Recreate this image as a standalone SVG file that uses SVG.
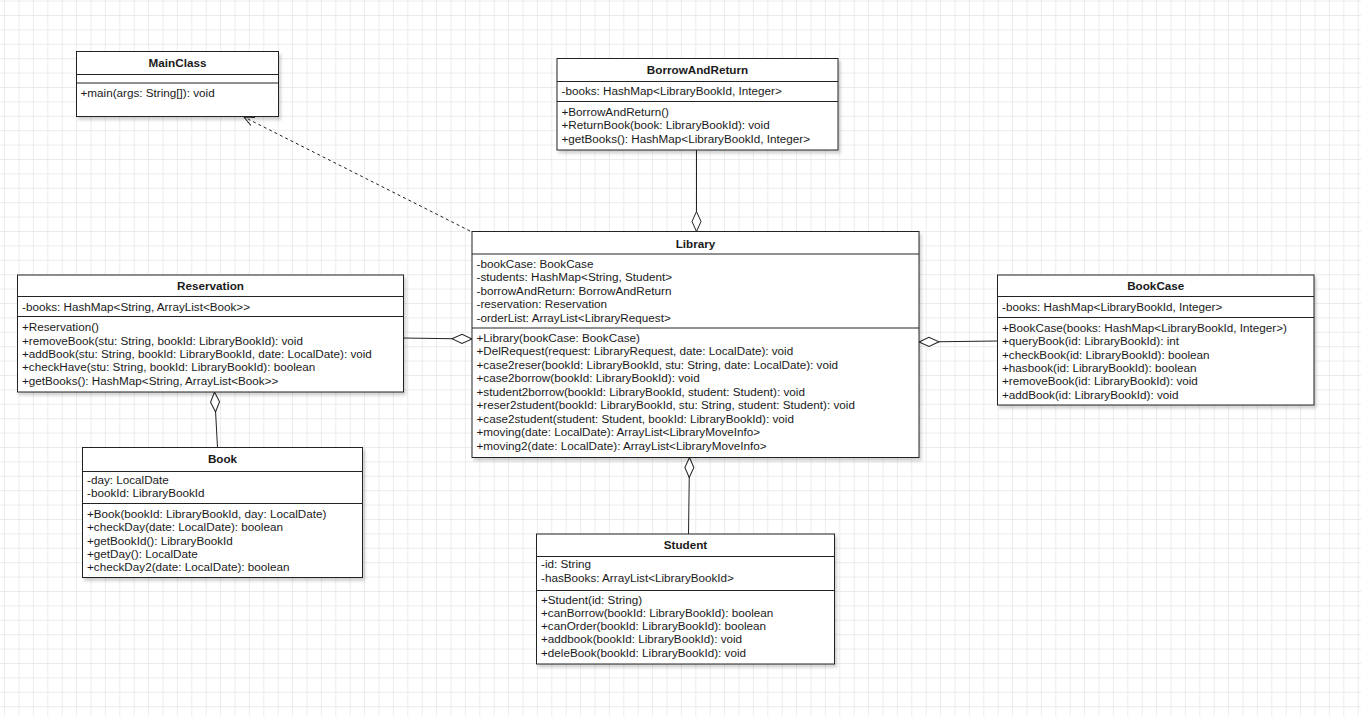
<svg xmlns="http://www.w3.org/2000/svg" width="1361" height="716" viewBox="0 0 1361 716">
<defs>
<style>
.box{fill:#fff;stroke:#222;stroke-width:1;filter:url(#sh)}
.ln{stroke:#222;stroke-width:1;fill:none}
.con{stroke:#222;stroke-width:1;fill:none}
text{font-family:"Liberation Sans",Arial,Helvetica,sans-serif;font-size:11.7px;fill:#1a1a1a}
.t{font-weight:bold;text-anchor:middle}
</style>
<pattern id="grid" x="4.1" y="0.6" width="14.4" height="14.4" patternUnits="userSpaceOnUse">
<path d="M0.5 0V14.4M0 0.5H14.4" stroke="#ebebeb" stroke-width="1" fill="none"/>
</pattern>
<filter id="sh" x="-5%" y="-5%" width="115%" height="120%">
<feDropShadow dx="2" dy="3" stdDeviation="1.5" flood-color="#000" flood-opacity="0.18"/>
</filter>
<marker id="dia" markerUnits="userSpaceOnUse" markerWidth="24" markerHeight="14" refX="21" refY="6" orient="auto">
<path d="M1 6L11 1.5L21 6L11 10.5Z" fill="#fff" stroke="#222" stroke-width="1"/>
</marker>
<marker id="open" markerUnits="userSpaceOnUse" markerWidth="14" markerHeight="14" refX="11" refY="6" orient="auto">
<path d="M1 1.5L11 6L1 10.5" fill="none" stroke="#222" stroke-width="1"/>
</marker>
</defs>
<rect width="1361" height="716" fill="#fff"/>
<rect width="1361" height="716" fill="url(#grid)"/>

<g id="connectors">
<path class="con" d="M470 231L244 117" stroke-dasharray="3 3" marker-end="url(#open)"/>
<path class="con" d="M696.5 150L696.5 231.5" marker-end="url(#dia)"/>
<path class="con" d="M403.5 338L472 339" marker-end="url(#dia)"/>
<path class="con" d="M997.5 341L919 342" marker-end="url(#dia)"/>
<path class="con" d="M217.5 447.5L214.5 392" marker-end="url(#dia)"/>
<path class="con" d="M688.5 534L689.5 457.5" marker-end="url(#dia)"/>
</g>

<g id="MainClass">
<rect class="box" x="76.5" y="51.5" width="202" height="65"/>
<path class="ln" d="M76.5 74.5H278.5M76.5 83H278.5"/>
<text class="t" x="177.5" y="67">MainClass</text>
<text x="80.5" y="97">+main(args: String[]): void</text>
</g>

<g id="BorrowAndReturn">
<rect class="box" x="557" y="58.5" width="281" height="91.5"/>
<path class="ln" d="M557 81.5H838M557 101.5H838"/>
<text class="t" x="697.5" y="74">BorrowAndReturn</text>
<text x="561.5" y="95">-books: HashMap&lt;LibraryBookId, Integer&gt;</text>
<text x="561.5" y="116">+BorrowAndReturn()</text>
<text x="561.5" y="129.3">+ReturnBook(book: LibraryBookId): void</text>
<text x="561.5" y="142.6">+getBooks(): HashMap&lt;LibraryBookId, Integer&gt;</text>
</g>

<g id="Library">
<rect class="box" x="472" y="231.5" width="447" height="226"/>
<path class="ln" d="M472 254H919M472 328H919"/>
<text class="t" x="695.5" y="247.5">Library</text>
<text x="476.5" y="268">-bookCase: BookCase</text>
<text x="476.5" y="281.4">-students: HashMap&lt;String, Student&gt;</text>
<text x="476.5" y="294.8">-borrowAndReturn: BorrowAndReturn</text>
<text x="476.5" y="308.2">-reservation: Reservation</text>
<text x="476.5" y="321.6">-orderList: ArrayList&lt;LibraryRequest&gt;</text>
<text x="476.5" y="342">+Library(bookCase: BookCase)</text>
<text x="476.5" y="355.45">+DelRequest(request: LibraryRequest, date: LocalDate): void</text>
<text x="476.5" y="368.9">+case2reser(bookId: LibraryBookId, stu: String, date: LocalDate): void</text>
<text x="476.5" y="382.35">+case2borrow(bookId: LibraryBookId): void</text>
<text x="476.5" y="395.8">+student2borrow(bookId: LibraryBookId, student: Student): void</text>
<text x="476.5" y="409.25">+reser2student(bookId: LibraryBookId, stu: String, student: Student): void</text>
<text x="476.5" y="422.7">+case2student(student: Student, bookId: LibraryBookId): void</text>
<text x="476.5" y="436.15">+moving(date: LocalDate): ArrayList&lt;LibraryMoveInfo&gt;</text>
<text x="476.5" y="449.6">+moving2(date: LocalDate): ArrayList&lt;LibraryMoveInfo&gt;</text>
</g>

<g id="Reservation">
<rect class="box" x="17.5" y="275" width="386" height="117"/>
<path class="ln" d="M17.5 296.5H403.5M17.5 316.5H403.5"/>
<text class="t" x="210.5" y="290">Reservation</text>
<text x="22" y="310.5">-books: HashMap&lt;String, ArrayList&lt;Book&gt;&gt;</text>
<text x="22" y="331.3">+Reservation()</text>
<text x="22" y="344.6">+removeBook(stu: String, bookId: LibraryBookId): void</text>
<text x="22" y="357.9">+addBook(stu: String, bookId: LibraryBookId, date: LocalDate): void</text>
<text x="22" y="371.2">+checkHave(stu: String, bookId: LibraryBookId): boolean</text>
<text x="22" y="384.5">+getBooks(): HashMap&lt;String, ArrayList&lt;Book&gt;&gt;</text>
</g>

<g id="BookCase">
<rect class="box" x="997.5" y="275" width="316.5" height="130"/>
<path class="ln" d="M997.5 296.5H1314M997.5 317.5H1314"/>
<text class="t" x="1155.75" y="290">BookCase</text>
<text x="1002" y="310.5">-books: HashMap&lt;LibraryBookId, Integer&gt;</text>
<text x="1002" y="332">+BookCase(books: HashMap&lt;LibraryBookId, Integer&gt;)</text>
<text x="1002" y="345.3">+queryBook(id: LibraryBookId): int</text>
<text x="1002" y="358.6">+checkBook(id: LibraryBookId): boolean</text>
<text x="1002" y="371.9">+hasbook(id: LibraryBookId): boolean</text>
<text x="1002" y="385.2">+removeBook(id: LibraryBookId): void</text>
<text x="1002" y="398.5">+addBook(id: LibraryBookId): void</text>
</g>

<g id="Book">
<rect class="box" x="82.5" y="447.5" width="280" height="130"/>
<path class="ln" d="M82.5 471.5H362.5M82.5 503.5H362.5"/>
<text class="t" x="222.5" y="463">Book</text>
<text x="87" y="484">-day: LocalDate</text>
<text x="87" y="497.3">-bookId: LibraryBookId</text>
<text x="87" y="518">+Book(bookId: LibraryBookId, day: LocalDate)</text>
<text x="87" y="531.3">+checkDay(date: LocalDate): boolean</text>
<text x="87" y="544.6">+getBookId(): LibraryBookId</text>
<text x="87" y="557.9">+getDay(): LocalDate</text>
<text x="87" y="571.2">+checkDay2(date: LocalDate): boolean</text>
</g>

<g id="Student">
<rect class="box" x="536.5" y="534" width="298" height="130"/>
<path class="ln" d="M536.5 556.5H834.5M536.5 590.5H834.5"/>
<text class="t" x="685.5" y="549">Student</text>
<text x="541" y="568.3">-id: String</text>
<text x="541" y="581.6">-hasBooks: ArrayList&lt;LibraryBookId&gt;</text>
<text x="541" y="603.5">+Student(id: String)</text>
<text x="541" y="616.8">+canBorrow(bookId: LibraryBookId): boolean</text>
<text x="541" y="630.1">+canOrder(bookId: LibraryBookId): boolean</text>
<text x="541" y="643.4">+addbook(bookId: LibraryBookId): void</text>
<text x="541" y="656.7">+deleBook(bookId: LibraryBookId): void</text>
</g>
</svg>
